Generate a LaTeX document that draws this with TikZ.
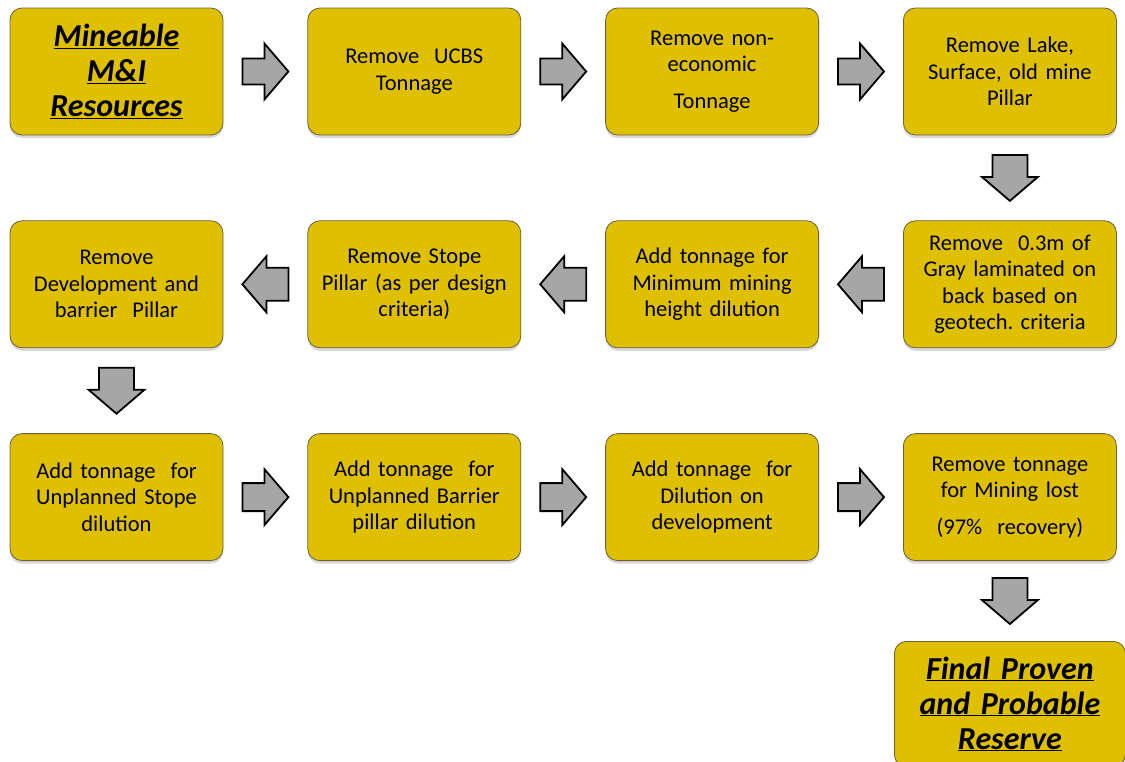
\documentclass[tikz,border=0pt]{standalone}
\usepackage{fontspec}
\setmainfont{Carlito}
\usepackage{tikz}
\usetikzlibrary{calc,positioning,shadows}
\usepackage{xcolor}
\frenchspacing
\definecolor{mgold}{HTML}{DFC000}
\definecolor{medge}{HTML}{6B6040}
\definecolor{mgray}{HTML}{A6A6A6}
\tikzstyle{box}=[rectangle, rounded corners=12pt, draw=medge, line width=0.8pt, fill=mgold,
  minimum width=213pt, minimum height=127pt, inner sep=0pt, text width=208pt, align=center,
  font=\fontsize{22.5}{26.5}\selectfont,
  drop shadow={opacity=0.3, shadow xshift=0pt, shadow yshift=-3pt}]
\tikzstyle{headbox}=[box, font=\fontsize{32}{35}\selectfont\bfseries\itshape]
\tikzstyle{arrowbody}=[draw=black, line width=1.8pt, fill=mgray, line join=miter]
\tikzset{
  % block arrow pointing right, #1 = half width of the shaft
  pics/blockarrow/.style={code={
    \draw[arrowbody] (-23pt,-#1) -- (-1pt,-#1) -- (-1pt,-28pt) -- (23pt,0pt)
      -- (-1pt,28pt) -- (-1pt,#1) -- (-23pt,#1) -- cycle;
  }}
}

\begin{document}
\begin{tikzpicture}
    \useasboundingbox (0,0) rectangle (1125pt,-761pt);

    % first row, left to right
    \node[headbox] at (116.5pt,-71.5pt) (m1) {\underline{Mineable}\\ \underline{M\&I}\\ \underline{Resources}};
    \node[box, right=84pt of m1] (m2) {Remove\ \ UCBS\\ Tonnage};
    \node[box, right=84pt of m2] (m3) {Remove non-\\ economic\\[10pt] Tonnage};
    \node[box, right=84pt of m3] (m4) {Remove Lake,\\ Surface, old mine\\ Pillar};

    % second row, right to left
    \node[box, below=85pt of m4] (g4) {Remove\ \ 0.3m of\\ Gray laminated on\\ back based on\\ geotech. criteria};
    \node[box, left=84pt of g4] (g3) {Add tonnage for\\ Minimum mining\\ height dilution};
    \node[box, left=84pt of g3] (g2) {Remove Stope\\ Pillar (as per design\\ criteria)};
    \node[box, left=84pt of g2] (g1) {Remove\\ Development and\\ barrier\ \ Pillar};

    % third row, left to right
    \node[box, below=85pt of g1] (d1) {Add tonnage\ \ for\\ Unplanned Stope\\ dilution};
    \node[box, right=84pt of d1] (d2) {Add tonnage\ \ for\\ Unplanned Barrier\\ pillar dilution};
    \node[box, right=84pt of d2] (d3) {Add tonnage\ \ for\\ Dilution on\\ development};
    \node[box, right=84pt of d3] (d4) {Remove tonnage\\ for Mining lost\\[10pt] (97\%\ \ recovery)};

    \node[headbox, minimum width=231pt, text width=228pt, minimum height=125pt, below=80pt of d4] (fin)
        {\underline{Final Proven}\\ \underline{and Probable}\\ \underline{Reserve}};

    % arrows
    \pic at ($(m1.east)!0.5!(m2.west)$) {blockarrow=13pt};
    \pic at ($(m2.east)!0.5!(m3.west)$) {blockarrow=13pt};
    \pic at ($(m3.east)!0.5!(m4.west)$) {blockarrow=13pt};
    \pic[rotate=-90] at ($(m4.south)!0.5!(g4.north)$) {blockarrow=17.5pt};
    \pic[rotate=180] at ($(g4.west)!0.5!(g3.east)$) {blockarrow=16.5pt};
    \pic[rotate=180] at ($(g3.west)!0.5!(g2.east)$) {blockarrow=16.5pt};
    \pic[rotate=180] at ($(g2.west)!0.5!(g1.east)$) {blockarrow=16.5pt};
    \pic[rotate=-90] at ($(g1.south)!0.5!(d1.north)$) {blockarrow=17.5pt};
    \pic at ($(d1.east)!0.5!(d2.west)$) {blockarrow=14pt};
    \pic at ($(d2.east)!0.5!(d3.west)$) {blockarrow=14pt};
    \pic at ($(d3.east)!0.5!(d4.west)$) {blockarrow=14pt};
    \pic[rotate=-90] at ($(d4.south)!0.5!(fin.north)$) {blockarrow=17.5pt};
\end{tikzpicture}
\end{document}
